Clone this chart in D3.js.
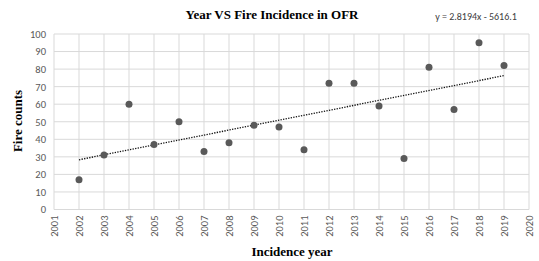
<!DOCTYPE html>
<html lang="en">
<head>
    <meta charset="UTF-8">
    <title>Year VS Fire Incidence in OFR</title>
    <script src="https://d3js.org/d3.v7.min.js"></script>
    <style>
        body { margin: 0; background: #fff; }
    </style>
</head>
<body>
    <div id="chart"></div>

    <script>
        // data
        const years = [2002, 2003, 2004, 2005, 2006, 2007, 2008, 2009, 2010, 2011, 2012, 2013, 2014, 2015, 2016, 2017, 2018, 2019];
        const fires = [17, 31, 60, 37, 50, 33, 38, 48, 47, 34, 72, 72, 59, 29, 81, 57, 95, 82];
        const yTicks = [0, 10, 20, 30, 40, 50, 60, 70, 80, 90, 100];
        const xTicks = d3.range(2001, 2021);
        const trend = { slope: 2.8194, intercept: -5616.1 };

        const width = 539;
        const height = 261;
        const margin = { top: 34, right: 10, bottom: 52, left: 54 };

        const svg = d3.select("#chart")
            .append("svg")
            .attr("width", width)
            .attr("height", height);

        const x = d3.scaleLinear()
            .domain([2001, 2020])
            .range([margin.left, 529]);

        const y = d3.scaleLinear()
            .domain([0, 100])
            .range([209.5, margin.top]);

        // gridlines
        svg.append("g")
            .selectAll("line")
            .data(yTicks)
            .join("line")
            .attr("x1", x(2001)).attr("x2", x(2020))
            .attr("y1", d => y(d)).attr("y2", d => y(d))
            .attr("stroke", "#d9d9d9");

        svg.append("g")
            .selectAll("line")
            .data(xTicks)
            .join("line")
            .attr("x1", d => x(d)).attr("x2", d => x(d))
            .attr("y1", y(0)).attr("y2", y(100))
            .attr("stroke", "#d9d9d9");

        // y axis labels
        const yAxis = svg.append("g")
            .attr("transform", `translate(${margin.left},0)`)
            .call(d3.axisLeft(y).tickValues(yTicks).tickSize(0).tickPadding(8));
        yAxis.select(".domain").remove();
        yAxis.selectAll("text")
            .attr("font-family", "Carlito, 'Liberation Sans', sans-serif")
            .attr("font-size", 10.5)
            .attr("fill", "#595959");

        // x axis labels
        const xAxis = svg.append("g")
            .attr("transform", `translate(0,${y(0)})`)
            .call(d3.axisBottom(x).tickValues(xTicks).tickFormat(d3.format("d")).tickSize(0));
        xAxis.select(".domain").remove();
        xAxis.selectAll("text")
            .attr("font-family", "Carlito, 'Liberation Sans', sans-serif")
            .attr("font-size", 10.5)
            .attr("fill", "#595959")
            .attr("transform", "rotate(-90)")
            .attr("text-anchor", "end")
            .attr("dy", "0.35em")
            .attr("x", -6)
            .attr("y", 0);

        // trendline
        svg.append("line")
            .attr("x1", x(years[0]))
            .attr("y1", y(trend.slope * years[0] + trend.intercept))
            .attr("x2", x(years[years.length - 1]))
            .attr("y2", y(trend.slope * years[years.length - 1] + trend.intercept))
            .attr("stroke", "#111")
            .attr("stroke-width", 1.3)
            .attr("stroke-dasharray", "1.3,1.3");

        // points
        svg.append("g")
            .selectAll("circle")
            .data(years)
            .join("circle")
            .attr("cx", d => x(d))
            .attr("cy", (d, i) => y(fires[i]))
            .attr("r", 3.5)
            .attr("fill", "#595959");

        // title
        svg.append("text")
            .attr("x", 272)
            .attr("y", 19)
            .attr("text-anchor", "middle")
            .attr("font-family", "'Liberation Serif', serif")
            .attr("font-weight", "bold")
            .attr("font-size", 13)
            .attr("fill", "#000")
            .text("Year VS Fire Incidence in OFR");

        // equation
        svg.append("text")
            .attr("x", 476)
            .attr("y", 20)
            .attr("text-anchor", "middle")
            .attr("font-family", "Carlito, 'Liberation Sans', sans-serif")
            .attr("font-size", 10)
            .attr("fill", "#404040")
            .text(`y = ${trend.slope}x - ${-trend.intercept}`);

        // axis titles
        svg.append("text")
            .attr("x", 292)
            .attr("y", 256)
            .attr("text-anchor", "middle")
            .attr("font-family", "'Liberation Serif', serif")
            .attr("font-weight", "bold")
            .attr("font-size", 13)
            .text("Incidence year");

        svg.append("text")
            .attr("transform", `translate(22,121) rotate(-90)`)
            .attr("text-anchor", "middle")
            .attr("font-family", "'Liberation Serif', serif")
            .attr("font-weight", "bold")
            .attr("font-size", 13)
            .text("Fire counts");
    </script>
</body>
</html>
